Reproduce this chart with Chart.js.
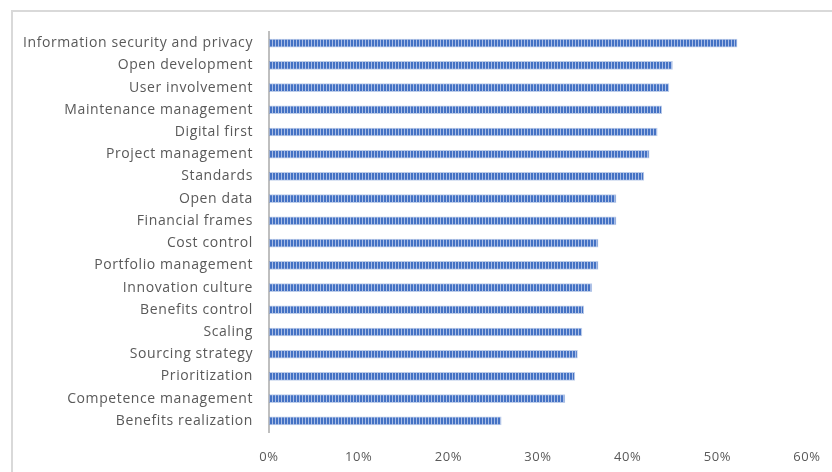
<!DOCTYPE html>
<html>
<head>
<meta charset="utf-8">
<script src="https://cdn.jsdelivr.net/npm/chart.js@4"></script>
<style>
  html, body { margin: 0; padding: 0; background: #fff; overflow: hidden; }
  #frame { position: absolute; left: 11px; top: 10px; width: 900px; height: 560px; border: 2px solid #d9d9d9; }
  #wrap { position: absolute; left: 0; top: 0; width: 832px; height: 472px; }
</style>
</head>
<body>
<div id="frame"></div>
<div id="wrap"><canvas id="chart"></canvas></div>
<script>
const categories = [
  'Information security and privacy', 'Open development', 'User involvement',
  'Maintenance management', 'Digital first', 'Project management', 'Standards',
  'Open data', 'Financial frames', 'Cost control', 'Portfolio management',
  'Innovation culture', 'Benefits control', 'Scaling', 'Sourcing strategy',
  'Prioritization', 'Competence management', 'Benefits realization'
];
const shares = [52.2, 45.0, 44.6, 43.8, 43.3, 42.4, 41.8, 38.7, 38.7, 36.7, 36.7, 36.0, 35.1, 34.9, 34.4, 34.1, 33.0, 25.9];
const xTicks = [0, 10, 20, 30, 40, 50, 60];

// striped fill like the original bars
function stripePattern() {
    const c = document.createElement('canvas');
    c.width = 3; c.height = 8;
    const g = c.getContext('2d');
    g.fillStyle = '#4472c4';
    g.fillRect(0, 0, 3, 8);
    g.fillStyle = '#a9bde6';
    g.fillRect(2, 0, 1, 8);
    return g.createPattern(c, 'repeat');
}

// the original labels are a bit spread out
const spacing = {
    id: 'spacing',
    beforeDraw: chart => { chart.ctx.letterSpacing = '0.6px'; }
};

const ctx = document.getElementById('chart').getContext('2d');
new Chart(ctx, {
    type: 'bar',
    data: {
        labels: categories,
        datasets: [{
            data: shares,
            backgroundColor: stripePattern(),
            borderColor: 'rgba(68,114,196,0.35)',
            borderWidth: 1,
            borderSkipped: false,
            barThickness: 8
        }]
    },
    options: {
        indexAxis: 'y',
        responsive: true,
        maintainAspectRatio: false,
        animation: false,
        layout: { padding: { top: 32, right: 25, left: 0, bottom: 0 } },
        plugins: { legend: { display: false }, tooltip: { enabled: false } },
        scales: {
            x: {
                min: 0, max: 60,
                afterBuildTicks: s => { s.ticks = xTicks.map(v => ({ value: v })); },
                afterFit: s => { s.height = 40; s.paddingRight = 0; s.paddingLeft = 0; },
                grid: { display: false, drawTicks: false },
                border: { display: false },
                ticks: {
                    padding: 17,
                    color: '#595959',
                    font: { family: 'Open Sans', size: 13 },
                    callback: v => v + '%'
                }
            },
            y: {
                afterFit: s => { s.width = 269; },
                grid: { display: false, drawTicks: false },
                border: { display: true, color: '#bfbfbf', width: 2 },
                ticks: {
                    padding: 16,
                    color: '#595959',
                    font: { family: 'Open Sans', size: 14 }
                }
            }
        }
    },
    plugins: [spacing]
});
</script>
</body>
</html>
